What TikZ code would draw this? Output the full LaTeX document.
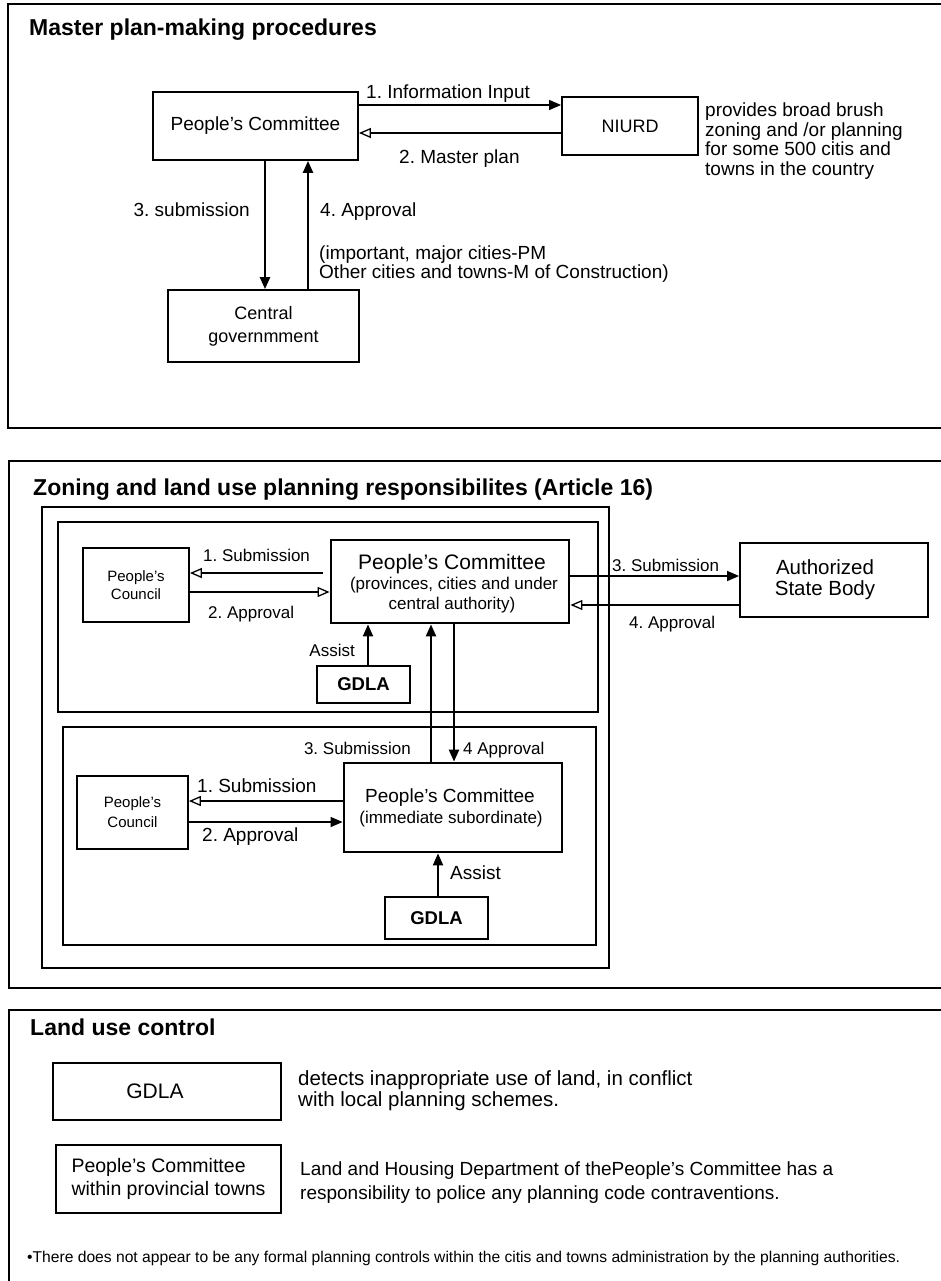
\documentclass[tikz,border=0pt]{standalone}
\usepackage{fontspec}
\usepackage{graphicx}
\setmainfont{Liberation Sans}
\usetikzlibrary{arrows.meta}
\newcommand\fsz[1]{\fontsize{#1}{#1}\selectfont}
\newcommand\fszl[2]{\fontsize{#1}{#2}\selectfont}
\begin{document}
\frenchspacing
\begin{tikzpicture}[x=1pt,y=-1pt,
 every node/.append style={execute at begin node=\frenchspacing},
 frame/.style={draw, line width=1.8pt},
 container/.style={draw, line width=2.6pt},
 box/.style={draw, line width=1.8pt, inner sep=0pt, align=center},
 bigbox/.style={draw, line width=2.8pt, inner sep=0pt, align=center},
 txt/.style={inner sep=0pt, anchor=base west},
 txte/.style={inner sep=0pt, anchor=base east},
 txtc/.style={inner sep=0pt, anchor=base},
 harr/.style={line width=1.3pt},
 varr/.style={line width=2.4pt},
 fhead/.style={-{Triangle[length=12pt,width=10pt]}},
 ohead/.style={-{Triangle[open,length=12pt,width=10pt,fill=white]}},
]
\useasboundingbox (0,0) rectangle (941,1281);

% ---------------- Panel 1 ----------------
\draw[frame] (8,4) rectangle (960,428);
\node[txt, font=\bfseries\fsz{23}] (t1) at (29,36) {Master plan-making procedures};

\node[box, minimum width=205pt, minimum height=68pt, font=\fsz{19}] (pc1) at (255.5,126) {People's Committee};
\node[box, minimum width=136pt, minimum height=58pt, font=\fsz{18}] (niurd) at (630,126) {NIURD};

\draw[harr,fhead] ([yshift=21pt]pc1.east) -- ([yshift=21pt]niurd.west);
\draw[harr,ohead] ([yshift=-7pt]niurd.west) -- ([yshift=-7pt]pc1.east);
\node[txt, font=\fsz{19}] (l1) at (366,99) {1. Information Input};
\node[txt, font=\fsz{19}] (l2) at (399,164) {2. Master plan};

\node[txt, font=\fsz{19}] (n1) at (705,117) {provides broad brush};
\node[txt, font=\fsz{19}] (n2) at (705,136.5) {zoning and /or planning};
\node[txt, font=\fsz{19}] (n3) at (705,156) {for some 500 citis and};
\node[txt, font=\fsz{19}] (n4) at (705,175.5) {towns in the country};

\node[box, minimum width=191pt, minimum height=72pt, font=\fszl{18}{23}] (cg) at (263.5,326) {Central\\governmment};

\coordinate (s3a) at ([xshift=9.5pt]pc1.south);
\coordinate (s3b) at (s3a |- cg.north);
\draw[varr,fhead] (s3a) -- (s3b);
\coordinate (a4a) at ([xshift=52.5pt]pc1.south);
\coordinate (a4b) at (a4a |- cg.north);
\draw[varr,fhead] (a4b) -- (a4a);

\node[txte, font=\fsz{19}] (l3) at (250,217) {3. submission};
\node[txt, font=\fsz{19}] (l4) at (320,217) {4. Approval};
\node[txt, font=\fsz{19}] (l5) at (319,259) {(important, major cities-PM};
\node[txt, font=\fsz{19}] (l6) at (319,278) {Other cities and towns-M of Construction)};

% ---------------- Panel 2 ----------------
\draw[frame] (9,461) rectangle (960,988);
\node[txt, font=\bfseries\fsz{23}] (t2) at (33,495) {Zoning and land use planning responsibilites (Article 16)};
\draw[line width=2.2pt] (42,507) rectangle (609,968);
\draw[container] (58,522) rectangle (598,712);
\draw[container] (63,727) rectangle (596,945);

% upper
\node[bigbox, minimum width=238pt, minimum height=83pt] (pc2) at (450,581.5) {};
\node[txtc, font=\fsz{21}] (pc2a) at (452,569.5) {People's Committee};
\node[txtc, font=\fsz{17}] (pc2b) at (454,589) {(provinces, cities and under};
\node[txtc, font=\fsz{17}] (pc2c) at (452,609) {central authority)};

\node[box, minimum width=106pt, minimum height=74pt, font=\fszl{15}{18}] (co2) at (136,585) {People's\\Council};
\draw[harr,ohead,shorten <=7pt] ([yshift=8.5pt]pc2.west) -- ([yshift=12pt]co2.east);
\draw[harr,ohead] ([yshift=-7pt]co2.east) -- ([yshift=-10.5pt]pc2.west);
\node[txt, font=\fsz{17}] (u1) at (203,561.5) {1. Submission};
\node[txt, font=\fsz{17}] (u2) at (208,618) {2. Approval};

\node[box, minimum width=93pt, minimum height=37pt, font=\bfseries\fsz{18.5}] (gdla2) at (363.5,684.5) {GDLA};
\coordinate (as2a) at ([xshift=4.5pt]gdla2.north);
\coordinate (as2b) at (as2a |- pc2.south);
\draw[line width=2pt,fhead] (as2a) -- (as2b);
\node[txte, font=\fsz{17}] (ua) at (355,656) {Assist};

% authorized state body
\node[box, minimum width=188pt, minimum height=74pt, font=\fszl{20.5}{21}] (asb) at (834,580) {Authorized\hspace*{18pt}\\State Body\hspace*{18pt}};
\draw[harr,fhead] ([yshift=5.5pt]pc2.east) -- ([yshift=4pt]asb.west);
\draw[harr,ohead] ([yshift=-25pt]asb.west) -- ([yshift=-23.5pt]pc2.east);
\node[txt, font=\fsz{17}] (r3) at (612,571) {3. Submission};
\node[txt, font=\fsz{17}] (r4) at (629,628) {4. Approval};

% lower
\node[bigbox, minimum width=218pt, minimum height=89pt] (pc3) at (453,807.5) {};
\node[txtc, font=\fsz{19}] (pc3a) at (450,802) {People's Committee};
\node[txtc, font=\fsz{17}] (pc3b) at (451,823) {(immediate subordinate)};

\coordinate (u3a) at ([xshift=-19pt]pc2.south);
\coordinate (u3b) at (u3a |- pc3.north);
\draw[varr,fhead] (u3b) -- (u3a);
\coordinate (d4a) at ([xshift=4pt]pc2.south);
\coordinate (d4b) at (d4a |- pc3.north);
\draw[varr,fhead] (d4a) -- (d4b);
\node[txte, font=\fsz{17}] (m3) at (411,754) {3. Submission};
\node[txt, font=\fsz{17}] (m4) at (463,754) {4 Approval};

\node[box, minimum width=111pt, minimum height=73pt, font=\fszl{15}{20}] (co3) at (132.5,812.5) {People's\\Council};
\draw[harr,ohead] ([yshift=6.5pt]pc3.west) -- ([yshift=11.5pt]co3.east);
\draw[harr,fhead] ([yshift=-9.5pt]co3.east) -- ([yshift=-14.5pt]pc3.west);
\node[txt, font=\fsz{19}] (b1) at (197,792.5) {1. Submission};
\node[txt, font=\fsz{19}] (b2) at (202,841.5) {2. Approval};

\node[box, minimum width=103pt, minimum height=42pt, font=\bfseries\fsz{18.5}] (gdla3) at (436.5,918) {GDLA};
\coordinate (as3a) at ([xshift=1.5pt]gdla3.north);
\coordinate (as3b) at (as3a |- pc3.south);
\draw[line width=2pt,fhead] (as3a) -- (as3b);
\node[txt, font=\fsz{19}] (ba) at (450,879) {Assist};

% ---------------- Panel 3 ----------------
\draw[frame] (9,1010) rectangle (960,1300);
\node[txt, font=\bfseries\fsz{23}] (t3) at (30,1035) {Land use control};

\node[box, minimum width=228pt, minimum height=57pt, font=\fsz{21}] (g4) at (167,1091.5) {GDLA\hspace*{24pt}};
\node[txt, font=\fsz{20.5}] (d1) at (298,1085.5) {detects inappropriate use of land, in conflict};
\node[txt, font=\fsz{20.5}] (d2) at (298,1106) {with local planning schemes.};

\node[box, minimum width=225pt, minimum height=68pt, align=left, font=\fszl{19.5}{23}] (pcw) at (168.5,1179) {People's Committee\\within provincial towns};
\node[txt, font=\fsz{19}] (h1) at (300,1175) {Land and Housing Department of thePeople's Committee has a};
\node[txt, font=\fsz{19}] (h2) at (300,1199) {responsibility to police any planning code contraventions.};

\node[txt] (fn) at (27,1262) {\resizebox{873pt}{!}{\fsz{14}•There does not appear to be any formal planning controls within the citis and towns administration by the planning authorities.}};
\end{tikzpicture}
\end{document}
